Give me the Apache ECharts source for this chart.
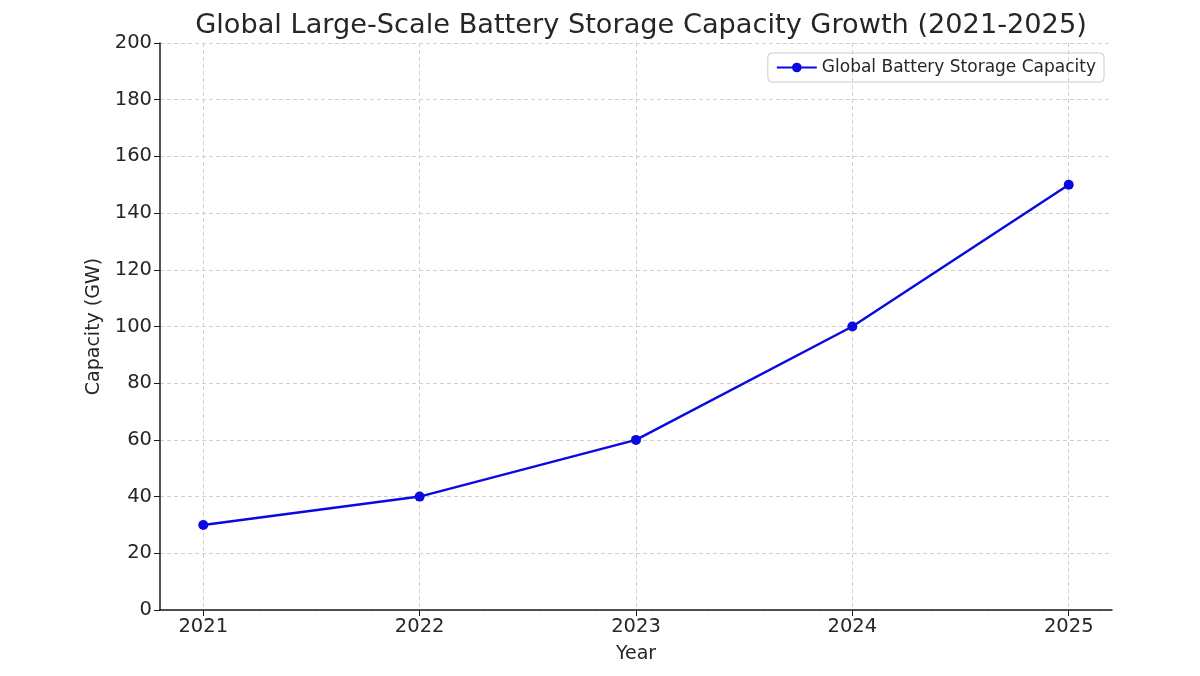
<!DOCTYPE html>
<html>
<head>
<meta charset="utf-8">
<script src="https://cdn.jsdelivr.net/npm/echarts@6/dist/echarts.min.js"></script>
<style>
  html, body { margin: 0; padding: 0; background: #fff; }
  #chart { width: 1200px; height: 676px; }
</style>
</head>
<body>
<div id="chart"></div>
<script>
// data
const years = [2021, 2022, 2023, 2024, 2025];
const capacity = [30, 40, 60, 100, 150];
const seriesName = 'Global Battery Storage Capacity';

const font = 'DejaVu Sans';
const textColor = '#262626';
const gridLine = { show: true, lineStyle: { color: '#d0d0d0', type: [4, 3], width: 1 } };

const chart = echarts.init(document.getElementById('chart'));
chart.setOption({
    backgroundColor: '#fff',
    animation: false,
    title: {
        text: 'Global Large-Scale Battery Storage Capacity Growth (2021-2025)',
        left: 636,
        textAlign: 'center',
        top: 7,
        textStyle: { fontFamily: font, fontSize: 27.2, fontWeight: 'normal', color: textColor }
    },
    legend: {
        right: 96,
        top: 53,
        orient: 'vertical',
        padding: [6, 8, 6, 8],
        borderColor: '#cccccc',
        borderWidth: 1,
        borderRadius: 4,
        itemWidth: 40,
        itemHeight: 12,
        itemGap: 8,
        textStyle: { fontFamily: font, fontSize: 17, color: textColor },
        data: [{ name: seriesName }]
    },
    grid: { left: 160, right: 88, top: 43, bottom: 66, containLabel: false },
    xAxis: {
        type: 'value',
        min: 2020.8,
        max: 2025.2,
        name: 'Year',
        nameLocation: 'middle',
        nameGap: 35,
        nameTextStyle: { fontFamily: font, fontSize: 19, color: textColor },
        axisLine: { show: true, lineStyle: { color: '#1a1a1a', width: 1.5 } },
        axisTick: { show: true, customValues: years, length: 6, lineStyle: { color: '#1a1a1a' } },
        axisLabel: {
            customValues: years,
            fontFamily: font, fontSize: 19.5, color: textColor, margin: 7,
            formatter: v => String(v)
        },
        splitLine: gridLine
    },
    yAxis: {
        type: 'value',
        min: 0,
        max: 200,
        interval: 20,
        name: 'Capacity (GW)',
        nameLocation: 'middle',
        nameGap: 51,
        nameTextStyle: { fontFamily: font, fontSize: 19, color: textColor },
        axisLine: { show: true, lineStyle: { color: '#1a1a1a', width: 1.5 } },
        axisTick: { show: true, length: 6, lineStyle: { color: '#1a1a1a' } },
        axisLabel: { fontFamily: font, fontSize: 19.5, color: textColor, margin: 8 },
        splitLine: gridLine
    },
    series: [{
        name: seriesName,
        type: 'line',
        data: years.map((y, i) => [y, capacity[i]]),
        symbol: 'circle',
        symbolSize: 10,
        itemStyle: { color: '#0a0ae0' },
        lineStyle: { color: '#0a0ae0', width: 2.5 }
    }]
});
window.addEventListener('resize', chart.resize);
</script>
</body>
</html>
